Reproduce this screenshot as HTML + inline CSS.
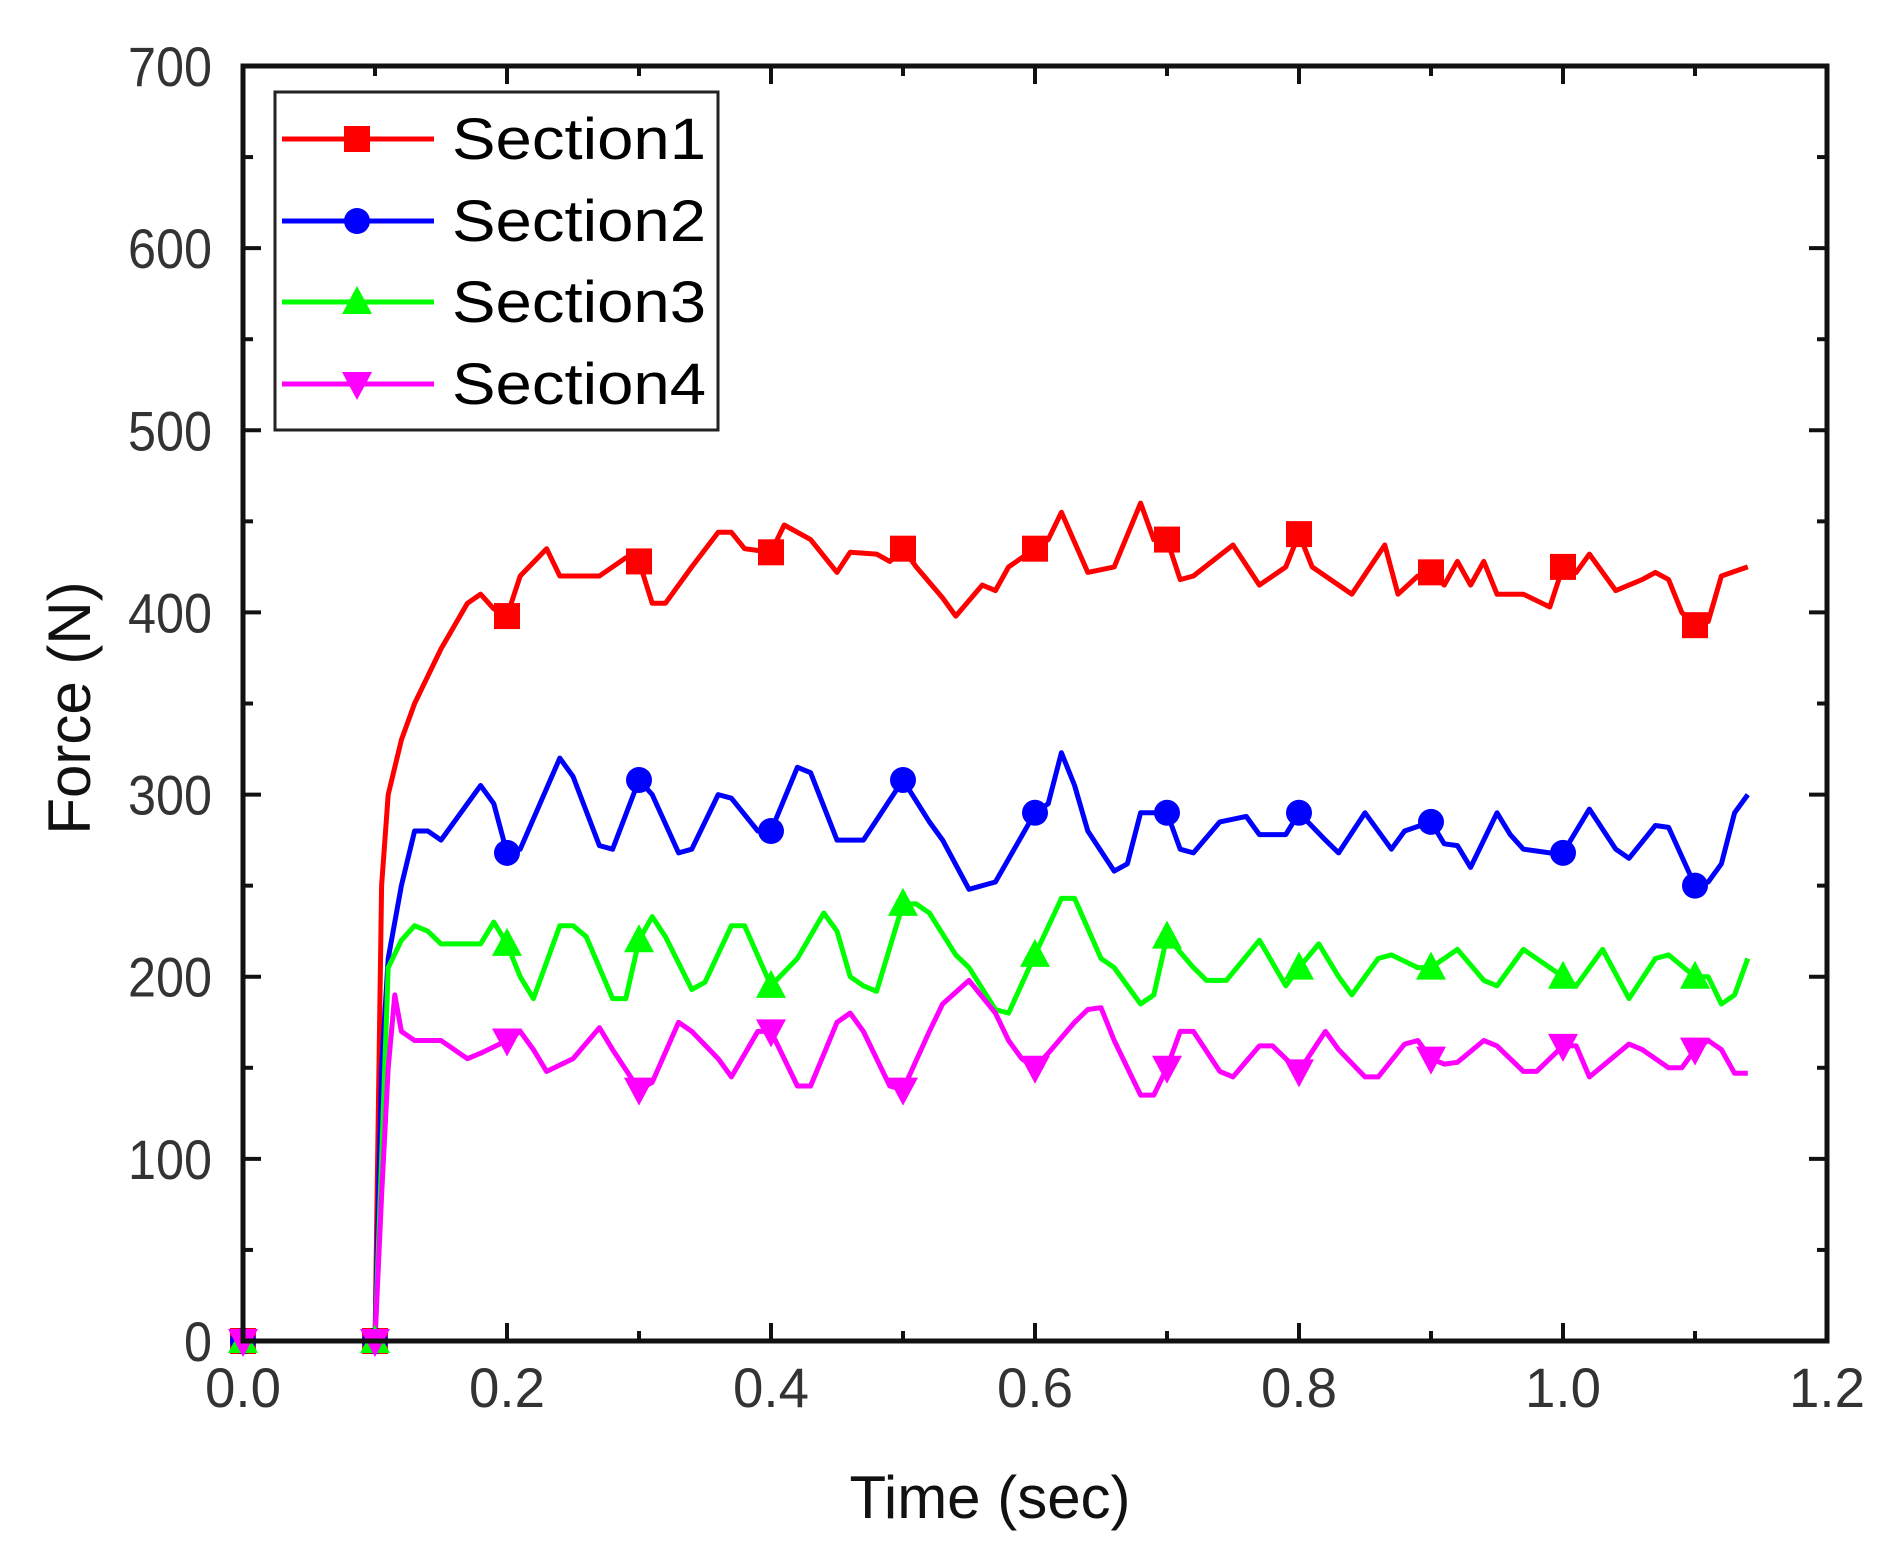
<!DOCTYPE html>
<html><head><meta charset="utf-8">
<style>html,body{margin:0;padding:0;background:#fff;}svg{display:block;}</style>
</head><body>
<svg id="s" width="1890" height="1550" xmlns="http://www.w3.org/2000/svg" font-family="Liberation Sans, Arial, sans-serif"></svg>
<script>
const L=243,R=1827,T=66,B=1341;
const X=t=>L+t*(R-L)/1.2, Y=v=>B-v*(B-T)/700;
let h='';
const red=[[0,0],[0.1,0],[0.105,250],[0.11,300],[0.12,330],[0.13,350],[0.15,380],[0.17,405],[0.18,410],[0.19,402],[0.2,398],[0.21,420],[0.23,435],[0.24,420],[0.27,420],[0.29,430],[0.3,428],[0.31,405],[0.32,405],[0.34,425],[0.36,444],[0.37,444],[0.38,435],[0.4,433],[0.41,448],[0.43,440],[0.45,422],[0.46,433],[0.48,432],[0.49,428],[0.5,435],[0.51,425],[0.53,408],[0.54,398],[0.56,415],[0.57,412],[0.58,425],[0.6,435],[0.61,440],[0.62,455],[0.64,422],[0.66,425],[0.68,460],[0.69,440],[0.7,440],[0.71,418],[0.72,420],[0.75,437],[0.77,415],[0.79,425],[0.8,443],[0.81,425],[0.84,410],[0.865,437],[0.875,410],[0.89,420],[0.9,422],[0.91,415],[0.92,428],[0.93,415],[0.94,428],[0.95,410],[0.97,410],[0.99,403],[1.0,425],[1.01,422],[1.02,432],[1.04,412],[1.06,418],[1.07,422],[1.08,418],[1.09,400],[1.1,393],[1.11,395],[1.12,420],[1.14,425]];
const blue=[[0,0],[0.1,0],[0.105,150],[0.11,210],[0.12,250],[0.13,280],[0.14,280],[0.15,275],[0.18,305],[0.19,295],[0.2,268],[0.21,270],[0.24,320],[0.25,310],[0.27,272],[0.28,270],[0.3,308],[0.31,300],[0.33,268],[0.34,270],[0.36,300],[0.37,298],[0.39,280],[0.4,280],[0.42,315],[0.43,312],[0.45,275],[0.47,275],[0.5,308],[0.52,285],[0.53,275],[0.55,248],[0.57,252],[0.6,290],[0.61,295],[0.62,323],[0.63,305],[0.64,280],[0.66,258],[0.67,262],[0.68,290],[0.69,290],[0.7,290],[0.71,270],[0.72,268],[0.74,285],[0.76,288],[0.77,278],[0.79,278],[0.8,290],[0.82,275],[0.83,268],[0.85,290],[0.87,270],[0.88,280],[0.9,285],[0.91,273],[0.92,272],[0.93,260],[0.95,290],[0.96,278],[0.97,270],[0.99,268],[1.0,268],[1.02,292],[1.04,270],[1.05,265],[1.07,283],[1.08,282],[1.1,250],[1.11,252],[1.12,262],[1.13,290],[1.14,300]];
const green=[[0,0],[0.1,0],[0.105,100],[0.11,205],[0.12,220],[0.13,228],[0.14,225],[0.15,218],[0.18,218],[0.19,230],[0.2,218],[0.21,200],[0.22,188],[0.24,228],[0.25,228],[0.26,222],[0.28,188],[0.29,188],[0.3,220],[0.31,233],[0.32,222],[0.34,193],[0.35,197],[0.37,228],[0.38,228],[0.4,195],[0.42,210],[0.44,235],[0.45,225],[0.46,200],[0.47,195],[0.48,192],[0.5,240],[0.51,240],[0.52,235],[0.54,212],[0.55,205],[0.57,182],[0.58,180],[0.6,212],[0.62,243],[0.63,243],[0.65,210],[0.66,205],[0.68,185],[0.69,190],[0.7,222],[0.72,205],[0.73,198],[0.745,198],[0.77,220],[0.79,195],[0.8,205],[0.815,218],[0.83,200],[0.84,190],[0.86,210],[0.87,212],[0.89,205],[0.9,205],[0.91,210],[0.92,215],[0.94,198],[0.95,195],[0.97,215],[0.98,210],[1.0,200],[1.01,195],[1.03,215],[1.05,188],[1.07,210],[1.08,212],[1.1,200],[1.11,200],[1.12,185],[1.13,190],[1.14,210]];
const mag=[[0,0],[0.1,0],[0.105,80],[0.11,150],[0.115,190],[0.12,170],[0.13,165],[0.15,165],[0.17,155],[0.18,158],[0.2,165],[0.21,170],[0.22,160],[0.23,148],[0.25,155],[0.27,172],[0.28,160],[0.3,138],[0.31,142],[0.33,175],[0.34,170],[0.36,155],[0.37,145],[0.39,170],[0.4,170],[0.42,140],[0.43,140],[0.45,175],[0.46,180],[0.47,170],[0.49,140],[0.5,138],[0.52,170],[0.53,185],[0.55,198],[0.57,180],[0.58,165],[0.59,155],[0.6,150],[0.61,158],[0.63,175],[0.64,182],[0.65,183],[0.66,165],[0.68,135],[0.69,135],[0.7,150],[0.71,170],[0.72,170],[0.74,148],[0.75,145],[0.77,162],[0.78,162],[0.8,148],[0.82,170],[0.83,160],[0.85,145],[0.86,145],[0.88,163],[0.89,165],[0.9,155],[0.91,152],[0.92,153],[0.94,165],[0.95,162],[0.97,148],[0.98,148],[1.0,162],[1.01,162],[1.02,145],[1.05,163],[1.06,160],[1.07,155],[1.08,150],[1.09,150],[1.1,160],[1.11,165],[1.12,160],[1.13,147],[1.14,147]];
function mk(type,x,y,c){
 if(type==0)return `<rect x="${x-13}" y="${y-13}" width="26" height="26" fill="${c}"/>`;
 if(type==1)return `<circle cx="${x}" cy="${y}" r="13" fill="${c}"/>`;
 if(type==2)return `<polygon points="${x},${y-16} ${x-15},${y+12} ${x+15},${y+12}" fill="${c}"/>`;
 return `<polygon points="${x},${y+16} ${x-15},${y-12} ${x+15},${y-12}" fill="${c}"/>`;
}
const S=[[red,'#ff0000',0],[blue,'#0000ff',1],[green,'#00ff00',2],[mag,'#ff00ff',3]];
for(let v=0;v<=700;v+=50){const y=Y(v),len=v%100==0?18:10;
 h+=`<line x1="${L}" y1="${y}" x2="${L+len}" y2="${y}" stroke="#111" stroke-width="4"/>`;
 h+=`<line x1="${R}" y1="${y}" x2="${R-len}" y2="${y}" stroke="#111" stroke-width="4"/>`;
 if(v%100==0){const w=v==0?28:84;h+=`<text x="${212-w}" y="${y+20}" font-size="56" textLength="${w}" lengthAdjust="spacingAndGlyphs" fill="#333">${v}</text>`;}}
for(let i=0;i<=12;i++){const x=X(i/10),len=i%2==0?18:10;
 h+=`<line x1="${x}" y1="${B}" x2="${x}" y2="${B-len}" stroke="#111" stroke-width="4"/>`;
 h+=`<line x1="${x}" y1="${T}" x2="${x}" y2="${T+len}" stroke="#111" stroke-width="4"/>`;
 if(i%2==0)h+=`<text x="${x-38}" y="1407" font-size="56" textLength="76" lengthAdjust="spacingAndGlyphs" fill="#333">${(i/10).toFixed(1)}</text>`;}
for(const [d,c,t] of S){
 h+=`<polyline fill="none" stroke="${c}" stroke-width="5" stroke-linejoin="round" points="${d.map(p=>X(p[0]).toFixed(1)+','+Y(p[1]).toFixed(1)).join(' ')}"/>`;
}
for(const [d,c,t] of S){
 for(const p of d){const k=Math.round(p[0]*100);if(Math.abs(p[0]*100-k)<1e-6&&k%10==0)h+=mk(t,X(p[0]),Y(p[1]),c);}
}
h+=`<rect x="${L}" y="${T}" width="${R-L}" height="${B-T}" fill="none" stroke="#111" stroke-width="5"/>`;
h+=`<rect x="275" y="92" width="443" height="338" fill="#fff" stroke="#222" stroke-width="3"/>`;
const names=['Section1','Section2','Section3','Section4'],ly=[139,221,302,384];
S.forEach((s,i)=>{h+=`<line x1="282" y1="${ly[i]}" x2="434" y2="${ly[i]}" stroke="${s[1]}" stroke-width="5"/>`+mk(s[2],357,ly[i],s[1])+
 `<text x="452" y="${ly[i]+20}" font-size="58" textLength="254" lengthAdjust="spacingAndGlyphs" fill="#000">${names[i]}</text>`;});
h+=`<text x="990" y="1518" font-size="60" text-anchor="middle" fill="#111">Time (sec)</text>`;
h+=`<text transform="translate(90,708) rotate(-90)" font-size="60" text-anchor="middle" fill="#111">Force (N)</text>`;
document.getElementById('s').innerHTML=h;
</script>
</body></html>
